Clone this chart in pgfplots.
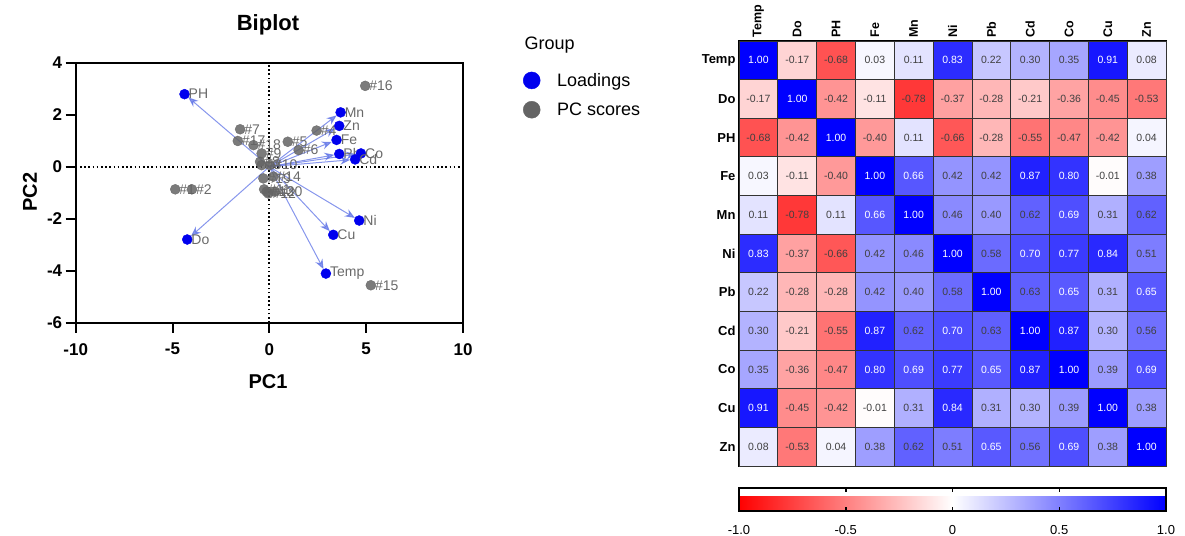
\documentclass[border=0pt]{standalone}
\usepackage{fontspec}
\setmainfont{Liberation Sans}
\usepackage{pgfplots}
\usepackage{pgfplotstable}
\pgfplotsset{compat=1.18}
\usetikzlibrary{arrows.meta}
\definecolor{loadblue}{RGB}{0,0,238}
\definecolor{scoregray}{RGB}{100,100,100}
\definecolor{labgray}{RGB}{105,105,105}
\definecolor{arrowblue}{RGB}{95,115,230}
\newcommand\fs[2]{\fontsize{#1}{#2}\selectfont}

\pgfplotstableread{
x y label
-4.38 2.79 PH
-4.24 -2.80 Do
3.68 2.09 Mn
3.61 1.57 Zn
3.47 1.03 Fe
3.61 0.49 Pb
4.73 0.51 Co
4.43 0.28 Cd
4.64 -2.07 Ni
3.30 -2.62 Cu
2.92 -4.11 Temp
}\loadings

\pgfplotstableread{
x y label
-4.86 -0.87 \#1
-4.00 -0.87 \#2
-0.40 0.06 \#3
2.44 1.39 \#4
0.95 0.96 \#5
1.51 0.64 \#6
-1.51 1.44 \#7
-0.48 0.19 \#8
-0.40 0.51 \#9
0.03 0.06 \#10
-0.27 -0.87 \#11
-0.05 -1.03 \#12
-0.14 -0.96 \#13
0.21 -0.38 \#14
5.24 -4.56 \#15
4.95 3.11 \#16
-1.63 0.99 \#17
-0.82 0.83 \#18
-0.31 -0.45 \#19
0.29 -0.96 \#20
}\scores

\pgfplotstableread[row sep=\\]{
x y c\\
0 10 1.00\\ 1 10 -0.17\\ 2 10 -0.68\\ 3 10 0.03\\ 4 10 0.11\\ 5 10 0.83\\ 6 10 0.22\\ 7 10 0.30\\ 8 10 0.35\\ 9 10 0.91\\ 10 10 0.08\\
0 9 -0.17\\ 1 9 1.00\\ 2 9 -0.42\\ 3 9 -0.11\\ 4 9 -0.78\\ 5 9 -0.37\\ 6 9 -0.28\\ 7 9 -0.21\\ 8 9 -0.36\\ 9 9 -0.45\\ 10 9 -0.53\\
0 8 -0.68\\ 1 8 -0.42\\ 2 8 1.00\\ 3 8 -0.40\\ 4 8 0.11\\ 5 8 -0.66\\ 6 8 -0.28\\ 7 8 -0.55\\ 8 8 -0.47\\ 9 8 -0.42\\ 10 8 0.04\\
0 7 0.03\\ 1 7 -0.11\\ 2 7 -0.40\\ 3 7 1.00\\ 4 7 0.66\\ 5 7 0.42\\ 6 7 0.42\\ 7 7 0.87\\ 8 7 0.80\\ 9 7 -0.01\\ 10 7 0.38\\
0 6 0.11\\ 1 6 -0.78\\ 2 6 0.11\\ 3 6 0.66\\ 4 6 1.00\\ 5 6 0.46\\ 6 6 0.40\\ 7 6 0.62\\ 8 6 0.69\\ 9 6 0.31\\ 10 6 0.62\\
0 5 0.83\\ 1 5 -0.37\\ 2 5 -0.66\\ 3 5 0.42\\ 4 5 0.46\\ 5 5 1.00\\ 6 5 0.58\\ 7 5 0.70\\ 8 5 0.77\\ 9 5 0.84\\ 10 5 0.51\\
0 4 0.22\\ 1 4 -0.28\\ 2 4 -0.28\\ 3 4 0.42\\ 4 4 0.40\\ 5 4 0.58\\ 6 4 1.00\\ 7 4 0.63\\ 8 4 0.65\\ 9 4 0.31\\ 10 4 0.65\\
0 3 0.30\\ 1 3 -0.21\\ 2 3 -0.55\\ 3 3 0.87\\ 4 3 0.62\\ 5 3 0.70\\ 6 3 0.63\\ 7 3 1.00\\ 8 3 0.87\\ 9 3 0.30\\ 10 3 0.56\\
0 2 0.35\\ 1 2 -0.36\\ 2 2 -0.47\\ 3 2 0.80\\ 4 2 0.69\\ 5 2 0.77\\ 6 2 0.65\\ 7 2 0.87\\ 8 2 1.00\\ 9 2 0.39\\ 10 2 0.69\\
0 1 0.91\\ 1 1 -0.45\\ 2 1 -0.42\\ 3 1 -0.01\\ 4 1 0.31\\ 5 1 0.84\\ 6 1 0.31\\ 7 1 0.30\\ 8 1 0.39\\ 9 1 1.00\\ 10 1 0.38\\
0 0 0.08\\ 1 0 -0.53\\ 2 0 0.04\\ 3 0 0.38\\ 4 0 0.62\\ 5 0 0.51\\ 6 0 0.65\\ 7 0 0.56\\ 8 0 0.69\\ 9 0 0.38\\ 10 0 1.00\\
}\heat

\begin{document}
\begin{tikzpicture}
\path[use as bounding box] (0pt,-535pt) rectangle (1185pt,0pt);

% ---------------- Biplot ----------------
\begin{axis}[
  at={(75.7pt,-322.7pt)}, anchor=south west, scale only axis,
  width=387.3pt, height=260pt,
  xmin=-10, xmax=10, ymin=-6, ymax=4,
  xtick={-10,-5,0,5,10}, ytick={-6,-4,-2,0,2,4},
  xtick pos=left, ytick pos=left, tick align=outside,
  major tick length=10pt,
  tick style={black, line width=2pt},
  axis line style={line width=2pt},
  /pgf/number format/assume math mode=true,
  tick label style={font=\fs{17}{20}\bfseries},
  xticklabel style={yshift=-7pt},
  legend style={at={(1.1472,0.976)}, anchor=north west, draw=none, fill=none,
    font=\fs{18}{21}, /tikz/column sep=15pt, /tikz/row sep=11pt},
  legend cell align=left,
]
\addplot[black, line width=1.8pt, dash pattern=on 1.6pt off 2.6pt, forget plot] coordinates {(0,-6) (0,4)};
\addplot[black, line width=1.8pt, dash pattern=on 1.6pt off 2.6pt, forget plot] coordinates {(-10,0) (10,0)};

\addplot[only marks, mark=*, mark size=5pt, scoregray, fill opacity=0.85, draw opacity=0.85,
  nodes near coords, point meta=explicit symbolic, nodes near coords align={west},
  every node near coord/.append style={text=labgray, text opacity=1, font=\fs{14}{16}, xshift=3pt, inner sep=1pt},
  forget plot] table[meta=label] {\scores};

\addplot[arrowblue, line width=1pt, opacity=0.75, forget plot,
  quiver={u=\thisrow{x}, v=\thisrow{y},
    every arrow/.append style={-{Stealth[length=10pt,width=8pt]}, shorten >=5pt}}]
  table[x expr=0, y expr=0] {\loadings};

\addplot[only marks, mark=*, mark size=5pt, loadblue,
  nodes near coords, point meta=explicit symbolic, nodes near coords align={west},
  every node near coord/.append style={text=labgray, font=\fs{14}{16}, xshift=3pt, inner sep=1pt},
  forget plot] table[meta=label] {\loadings};

\addlegendimage{only marks, mark=*, mark size=8.5pt, loadblue}
\addlegendentry{Loadings}
\addlegendimage{only marks, mark=*, mark size=8.5pt, scoregray}
\addlegendentry{PC scores}
\end{axis}

\node[font=\fs{22}{26}\bfseries] at (268pt,-25pt) {Biplot};
\node[font=\fs{20}{24}\bfseries] at (268pt,-382pt) {PC1};
\node[font=\fs{20}{24}\bfseries, rotate=90] at (30pt,-192pt) {PC2};
\node[font=\fs{18}{21}, anchor=west] at (521pt,-45pt) {Group};

% ---------------- Heatmap ----------------
\begin{axis}[
  at={(739pt,-466pt)}, anchor=south west, scale only axis,
  width=427pt, height=425pt,
  xmin=-0.5, xmax=10.5, ymin=-0.5, ymax=10.5,
  xtick={0,...,10}, ytick={0,...,10},
  xticklabels={Temp,Do,PH,Fe,Mn,Ni,Pb,Cd,Co,Cu,Zn},
  yticklabels={Zn,Cu,Co,Cd,Pb,Ni,Mn,Fe,PH,Do,Temp},
  xticklabel pos=upper,
  major tick length=0pt,
  x tick label style={rotate=90, anchor=west, font=\fs{12.5}{14}\bfseries},
  y tick label style={anchor=east, font=\fs{13}{15}\bfseries},
  axis line style={line width=2pt},
  axis on top,
  colormap={rwb}{rgb255=(255,0,0) rgb255=(255,255,255) rgb255=(0,0,255)},
  point meta min=-1, point meta max=1,
  colorbar horizontal,
  colorbar style={
    at={(parent axis.south west)}, anchor=north west, yshift=-13pt,
    scale only axis, width=427pt, height=23pt,
    xtick={-1,-0.5,0,0.5,1}, xticklabels={-1.0,-0.5,0,0.5,1.0},
    xtick pos=both, xticklabel pos=lower,
    tick align=inside, major tick length=4pt,
    tick style={black, line width=1.5pt},
    axis line style={line width=2pt},
    xticklabel style={font=\fs{13}{15}, yshift=-11pt},
  },
]
\addplot[scatter, only marks, mark=square*, mark size=19.41pt, line width=0.7pt,
  scatter/use mapped color={draw=black!80, fill=mapped color},
  point meta=\thisrow{c}] table {\heat};
\addplot[only marks, mark=none, point meta=explicit symbolic,
  restrict expr to domain={\thisrow{c}}{-1.5:0.645},
  nodes near coords, nodes near coords align={center},
  every node near coord/.append style={font=\fs{10.5}{12}, text=black!75}] table[meta=c] {\heat};
\addplot[only marks, mark=none, point meta=explicit symbolic,
  restrict expr to domain={\thisrow{c}}{0.645:1.5},
  nodes near coords, nodes near coords align={center},
  every node near coord/.append style={font=\fs{10.5}{12}, text=white}] table[meta=c] {\heat};
\end{axis}
\end{tikzpicture}
\end{document}
